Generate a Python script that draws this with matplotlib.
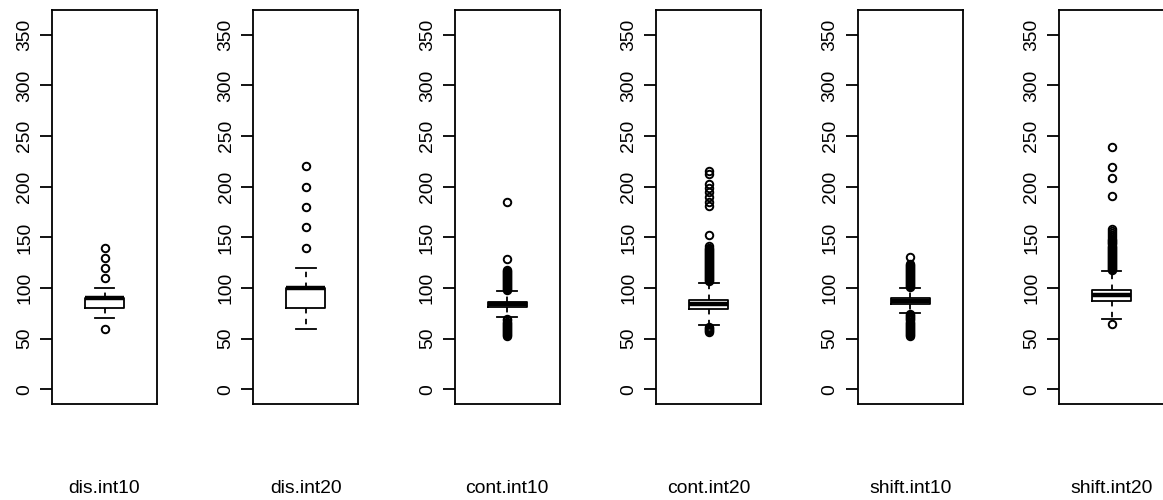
import matplotlib
matplotlib.use('Agg')
import matplotlib.pyplot as plt

# six boxplots, values
names = ['dis.int10', 'dis.int20', 'cont.int10', 'cont.int20', 'shift.int10', 'shift.int20']
whis_lo = [70, 60, 71, 64, 75, 69]
q1 = [80, 80, 81, 79, 84, 87]
med = [90, 100, 84, 84, 87, 93]
q3 = [90, 100, 86, 88, 90, 98]
whis_hi = [100, 120, 97, 105, 100, 117]

dis10_out = [60, 110, 120, 130, 140]
dis20_out = [140, 160, 180, 200, 220]
cont10_out = [53, 54, 55, 56, 57, 58, 59, 60, 61, 62, 63, 64, 65, 66, 67, 68, 69,
              98, 99, 100, 101, 102, 103, 104, 105, 106, 107, 108, 109, 110,
              111, 112, 113, 114, 115, 116, 117, 118, 129, 185]
cont20_out = [57, 58, 59, 60, 61, 62,
              107, 108, 109, 110, 111, 112, 113, 114, 115, 116, 117, 118, 119,
              120, 121, 122, 123, 124, 125, 126, 127, 128, 129, 130, 131, 132,
              133, 134, 135, 136, 137, 138, 139, 140, 142, 152,
              181, 185, 190, 195, 199, 203, 213, 216]
shift10_out = [53, 54, 55, 56, 57, 58, 59, 60, 61, 62, 63, 64, 65, 66, 67, 68,
               69, 70, 71, 72, 73, 74,
               101, 102, 103, 104, 105, 106, 107, 108, 109, 110, 111, 112, 113,
               114, 115, 116, 117, 118, 119, 120, 121, 122, 123, 124, 131]
shift20_out = [65,
               118, 119, 120, 121, 122, 123, 124, 125, 126, 127, 128, 129, 130,
               131, 132, 133, 134, 135, 136, 137, 138, 139, 140, 141, 142, 143,
               144, 145, 146, 147, 148, 150, 152, 154, 156, 158,
               191, 209, 219, 239]
outliers = [dis10_out, dis20_out, cont10_out, cont20_out, shift10_out, shift20_out]

plt.rcParams['font.family'] = ['Liberation Sans', 'DejaVu Sans']

W, H = 1163, 500
fig = plt.figure(figsize=(W / 100, H / 100), dpi=100)

for i in range(6):
    left = 52 + 201.4 * i
    ax = fig.add_axes([left / W, 96 / H, 105 / W, 394 / H])
    stats = [dict(med=med[i], q1=q1[i], q3=q3[i], whislo=whis_lo[i],
                  whishi=whis_hi[i], fliers=outliers[i])]
    ax.bxp(stats, positions=[1], widths=0.37, capwidths=0.19,
           boxprops=dict(color='black', lw=1.3),
           medianprops=dict(color='black', lw=3.2, solid_capstyle='butt'),
           whiskerprops=dict(color='black', lw=1.3, ls=(0, (3, 3))),
           capprops=dict(color='black', lw=1.3),
           flierprops=dict(marker='o', markerfacecolor='none',
                           markeredgecolor='black', markersize=5.4,
                           markeredgewidth=1.4))
    ax.set_xlim(0.5, 1.5)
    ax.set_ylim(-14.4, 374.4)
    ax.set_xticks([])
    ax.set_yticks(range(0, 351, 50))
    ax.set_yticklabels([str(v) for v in range(0, 351, 50)], rotation=90,
                       va='center', fontsize=13.9)
    ax.tick_params(axis='y', direction='out', length=8.6, width=1.3, pad=5)
    for s in ax.spines.values():
        s.set_linewidth(1.3)
    fig.text((left + 52.5) / W, 7 / H, names[i], ha='center', va='baseline',
             fontsize=13.9)

fig.savefig('out.png', dpi=100)
